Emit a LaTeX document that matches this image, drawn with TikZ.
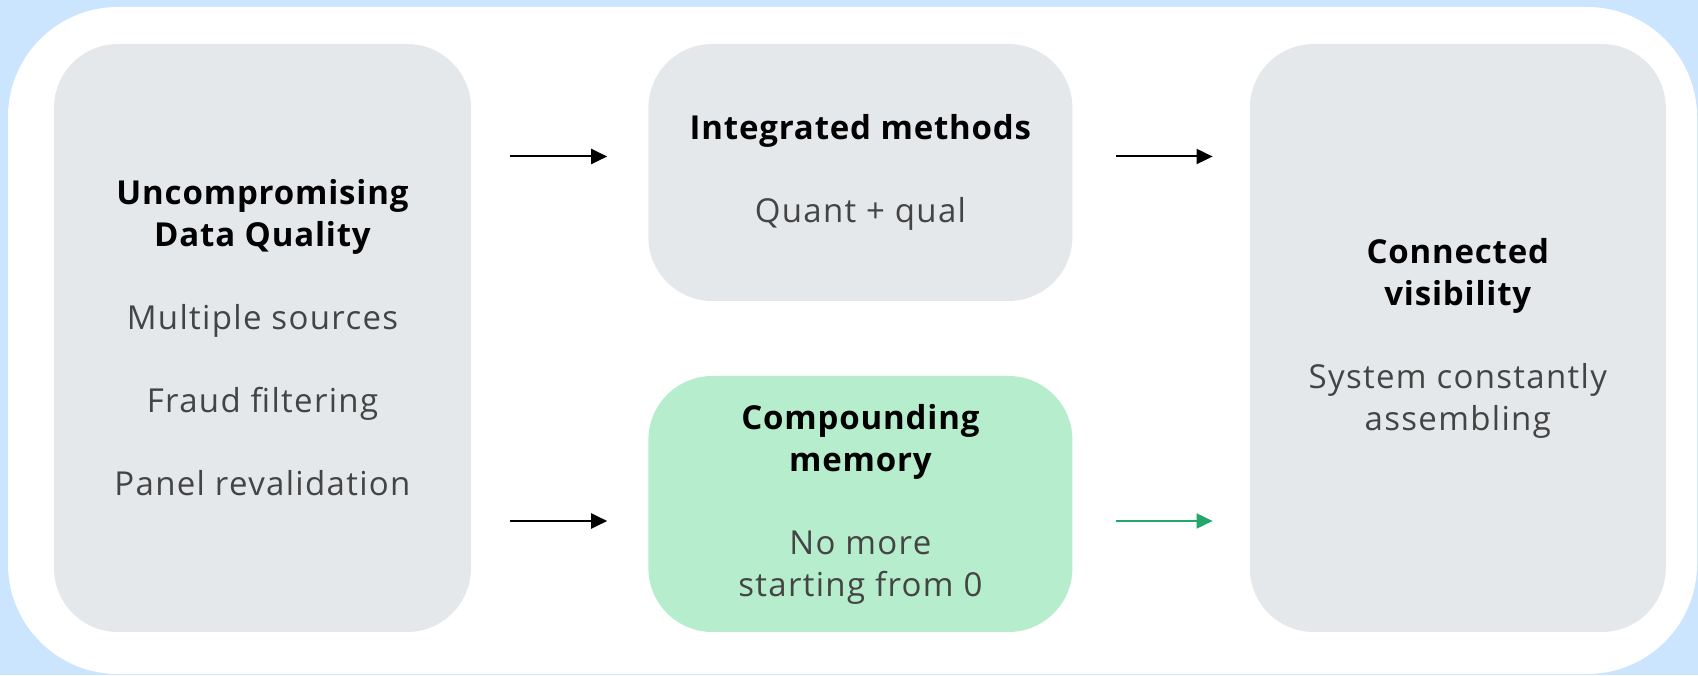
\documentclass[tikz,border=0pt]{standalone}
\usepackage{fontspec}
\setmainfont{Open Sans}[UprightFeatures={LetterSpace=4},BoldFeatures={LetterSpace=2.5}]
\usetikzlibrary{positioning,calc,arrows.meta}

\definecolor{skyblue}{HTML}{CCE5FF}
\definecolor{boxgray}{HTML}{E5E8EB}
\definecolor{mint}{HTML}{B5EDCD}
\definecolor{arrowgreen}{HTML}{22A86A}
\definecolor{textgray}{HTML}{444444}
\newcommand{\boxtitle}[1]{{\bfseries\color{black}#1}}

\begin{document}
\begin{tikzpicture}[x=1pt,y=1pt,
  card/.style={fill=boxgray,rounded corners=64pt,inner sep=0pt,align=center,
    text=textgray,font=\fontsize{33}{42}\selectfont},
  flow/.style={-{Triangle[length=16pt,width=15pt]},line width=2pt}]
\useasboundingbox (0,0) rectangle (1698,675);
\fill[skyblue] (0,0) rectangle (1698,675);
\fill[white,rounded corners=110pt] (8,1) rectangle (1697,668);

\node[card,minimum width=417pt,minimum height=588pt] (quality) at (262.5,337)
  {\boxtitle{Uncompromising}\\\boxtitle{Data Quality}\\[41pt]Multiple sources\\[41pt]Fraud filtering\\[41pt]Panel revalidation};
\node[card,minimum width=424pt,minimum height=257pt,right=177pt of quality.north east,anchor=north west] (integ)
  {\boxtitle{Integrated methods}\\[41pt]Quant + qual};
\node[card,fill=mint,minimum width=424pt,minimum height=256pt,right=177pt of quality.south east,anchor=south west] (memory)
  {\boxtitle{Compounding}\\\boxtitle{memory}\\[41pt]No more\\starting from 0};
\node[card,minimum width=416pt,minimum height=588pt,right=177pt of integ.north east,anchor=north west] (visib)
  {\boxtitle{Connected}\\\boxtitle{visibility}\\[41pt]System constantly\\assembling};

\draw[flow] ($(quality.east |- integ.west)+(39pt,16pt)$) -- ($(integ.west)+(-41pt,16pt)$);
\draw[flow] ($(quality.east |- memory.west)+(39pt,-17pt)$) -- ($(memory.west)+(-41pt,-17pt)$);
\draw[flow] ($(integ.east)+(43pt,16pt)$) -- ($(visib.west |- integ.east)+(-37pt,16pt)$);
\draw[flow,arrowgreen] ($(memory.east)+(43pt,-17pt)$) -- ($(visib.west |- memory.east)+(-37pt,-17pt)$);
\end{tikzpicture}
\end{document}
